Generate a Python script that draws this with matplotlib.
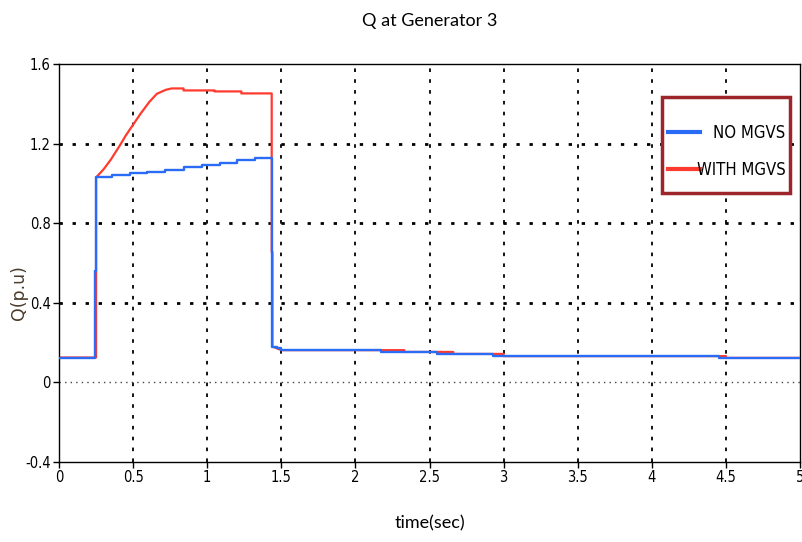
import matplotlib
matplotlib.use('Agg')
import matplotlib.pyplot as plt
from matplotlib.patches import Rectangle

# Q at generator 3 (p.u), step start times in sec
blue_t = [0, 0.24, 0.25, 0.355, 0.48, 0.593, 0.716, 0.84, 0.963, 1.088, 1.2, 1.324,
          1.44, 1.47, 1.50, 2.17, 2.55, 2.93, 4.45, 5.0]
blue_q = [0.125, 0.56, 1.034, 1.042, 1.051, 1.059, 1.068, 1.084, 1.093, 1.101, 1.118, 1.127,
          0.18, 0.172, 0.162, 0.153, 0.143, 0.132, 0.123, 0.123]

red_t = [0, 0.25, 0.25, 0.30, 0.35, 0.41, 0.45, 0.50, 0.55, 0.61, 0.66, 0.72, 0.76,
         0.84, 0.84, 1.05, 1.05, 1.23, 1.23, 1.435, 1.435, 1.44, 1.44, 1.50,
         2.33, 2.33, 2.66, 2.66, 3.0, 3.0, 4.5, 4.5, 5.0]
red_q = [0.125, 0.125, 1.03, 1.07, 1.12, 1.19, 1.24, 1.295, 1.35, 1.41, 1.45, 1.47, 1.477,
         1.477, 1.467, 1.467, 1.462, 1.462, 1.452, 1.452, 0.655, 0.655, 0.18, 0.162,
         0.162, 0.153, 0.153, 0.143, 0.143, 0.132, 0.132, 0.123, 0.123]

x_ticks = [0, 0.5, 1, 1.5, 2, 2.5, 3, 3.5, 4, 4.5, 5]
x_labels = ['0', '0.5', '1', '1.5', '2', '2.5', '3', '3.5', '4', '4.5', '5']
y_ticks = [-0.4, 0, 0.4, 0.8, 1.2, 1.6]
y_labels = ['-0.4', '0', '0.4', '0.8', '1.2', '1.6']

cond = dict(family='DejaVu Sans', stretch='condensed')

fig = plt.figure(figsize=(8.02, 5.42), dpi=100)
ax = fig.add_axes([0.0736, 0.1476, 0.924, 0.7344])

# grid
for x in x_ticks[1:-1]:
    ax.axvline(x, color='black', linestyle=(0, (2, 4)), linewidth=1.3, zorder=1)
for y in y_ticks[1:-1]:
    if y == 0:
        ax.axhline(y, color='#444444', linestyle=(0, (1, 3)), linewidth=1.0, zorder=1)
    else:
        ax.axhline(y, color='black', linestyle=(0, (1.2, 3.5)), linewidth=2.0, zorder=1)

ax.plot(red_t, red_q, color='#ff3b2f', linewidth=1.6, label='WITH MGVS', zorder=2)
ax.step(blue_t, blue_q, where='post', color='#2a6cf5', linewidth=1.7, label='NO MGVS', zorder=3)

ax.set_xlim(0, 5)
ax.set_ylim(-0.4, 1.6)
ax.set_xticks(x_ticks)
ax.set_xticklabels(x_labels, fontsize=10.5, **cond)
ax.set_yticks(y_ticks)
ax.set_yticklabels(y_labels, fontsize=10.5, **cond)
ax.tick_params(direction='out', length=4, width=1, pad=2)
for s in ax.spines.values():
    s.set_linewidth(1.0)

ax.set_title('Q at Generator 3', family=['Lato', 'DejaVu Sans'], fontsize=13, pad=27)
ax.set_xlabel('time(sec)', family=['Lato', 'DejaVu Sans'], fontsize=13)
ax.xaxis.set_label_coords(0.5, -0.135)
ax.set_ylabel('Q(p.u)', family=['DejaVu Sans'], fontsize=12.5, color='#4a3b2a')
ax.yaxis.set_label_coords(-0.042, 0.425)

# legend box
ax.add_patch(Rectangle((0.814, 0.676), 0.172, 0.241, transform=ax.transAxes,
                       facecolor='white', edgecolor='#9b2528', linewidth=2.5, zorder=5))
handles, labels = ax.get_legend_handles_labels()
leg = ax.legend(handles[::-1], labels[::-1], loc='upper left',
                bbox_to_anchor=(0.822, 0.85), frameon=False,
                prop={'size': 12, **cond}, handlelength=1.9, handletextpad=0.4,
                labelspacing=1.15, borderaxespad=0, borderpad=0)
leg.set_zorder(6)
for line in leg.get_lines():
    line.set_linewidth(3)

# right-align the legend labels inside the box
fig.canvas.draw()
renderer = fig.canvas.get_renderer()
x_right = ax.transAxes.transform((0.98, 0))[0]
for t in leg.get_texts():
    bb = t.get_window_extent(renderer)
    t.set_visible(False)
    txt = fig.text(x_right / fig.bbox.width, (bb.y0 + bb.y1) / 2 / fig.bbox.height,
                   t.get_text(), ha='right', va='center', fontsize=12, **cond)
    txt.set_zorder(7)

fig.savefig('out.png', dpi=100)
